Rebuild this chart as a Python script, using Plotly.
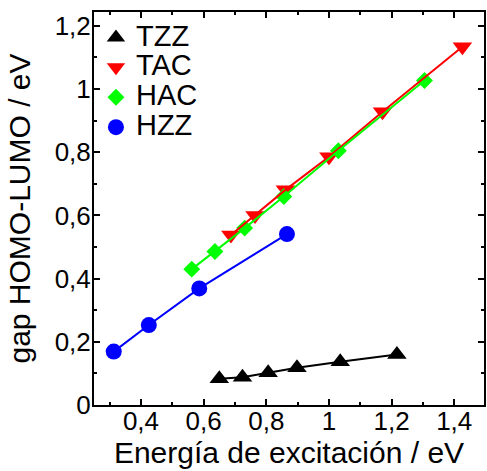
import plotly.graph_objects as go

# Data
tzz_x = [0.650, 0.724, 0.806, 0.898, 1.036, 1.217]
tzz_y = [0.083, 0.088, 0.102, 0.118, 0.137, 0.160]

tac_x = [0.687, 0.764, 0.861, 1.000, 1.171, 1.426]
tac_y = [0.538, 0.600, 0.681, 0.786, 0.928, 1.134]

hac_x = [0.562, 0.636, 0.731, 0.856, 1.030, 1.305]
hac_y = [0.430, 0.486, 0.560, 0.660, 0.805, 1.027]

hzz_x = [0.313, 0.425, 0.586, 0.866]
hzz_y = [0.169, 0.253, 0.369, 0.541]

series = [
    ("TZZ", tzz_x, tzz_y, "#000000", "triangle-up", 17),
    ("TAC", tac_x, tac_y, "#ff0000", "triangle-down", 17),
    ("HAC", hac_x, hac_y, "#00ff00", "diamond", 13),
    ("HZZ", hzz_x, hzz_y, "#0000ff", "circle", 16),
]

FONT = "Liberation Sans, Arial, Helvetica, sans-serif"

fig = go.Figure()
for name, xs, ys, col, sym, sz in series:
    fig.add_trace(go.Scatter(
        x=xs, y=ys, mode="markers", name=f'<span style="font-size:29px">{name}</span>',
        marker=dict(symbol=sym, size=sz, color=col, line=dict(width=0)),
    ))
for name, xs, ys, col, sym, sz in series:
    fig.add_trace(go.Scatter(
        x=xs, y=ys, mode="lines", showlegend=False,
        line=dict(color=col, width=2),
    ))

axis_common = dict(
    showline=True, linewidth=2, linecolor="black", mirror="allticks",
    ticks="inside", ticklen=6, tickwidth=2, tickcolor="black",
    showgrid=False, zeroline=False,
    tickfont=dict(size=26, family=FONT, color="black"),
)

fig.update_xaxes(
    range=[0.25, 1.495], tick0=0, dtick=0.2,
    minor=dict(dtick=0.1, ticks="inside", ticklen=3, tickwidth=2, tickcolor="black"),
    ticklabelstandoff=-8,
    title=dict(text="Energía de excitación / eV", font=dict(size=30, family=FONT, color="black"), standoff=4),
    **axis_common,
)
fig.update_yaxes(
    range=[0, 1.244], tick0=0, dtick=0.2,
    minor=dict(dtick=0.1, ticks="inside", ticklen=3, tickwidth=2, tickcolor="black"),
    ticklabelstandoff=-4,
    title=dict(text="gap HOMO-LUMO / eV", font=dict(size=30, family=FONT, color="black"), standoff=15),
    **axis_common,
)

fig.update_layout(
    width=487, height=471,
    margin=dict(l=94, r=1, t=12, b=66),
    paper_bgcolor="white", plot_bgcolor="white",
    separators=", ",
    font=dict(family=FONT, color="black"),
    legend=dict(
        x=0.005, y=0.986, xanchor="left", yanchor="top",
        bgcolor="rgba(0,0,0,0)", borderwidth=0,
        font=dict(size=20.7, family=FONT, color="black"),
        itemwidth=30, tracegroupgap=0,
    ),
)

fig.write_html("out.html")
